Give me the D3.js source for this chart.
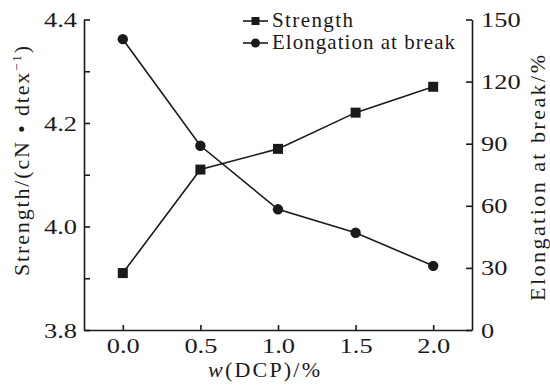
<!DOCTYPE html>
<html>
<head>
<meta charset="utf-8">
<script src="https://cdn.jsdelivr.net/npm/d3@7"></script>
<style>
  body { margin: 0; background: #fff; }
</style>
</head>
<body>
<svg id="chart" width="550" height="385"></svg>
<script>
// data
var dcp = [0.0, 0.5, 1.0, 1.5, 2.0];
var strength = [3.91, 4.11, 4.15, 4.22, 4.27];
var elongation = [140.5, 89, 58.3, 47, 31];
var xTicks = [0.0, 0.5, 1.0, 1.5, 2.0];
var yLeftTicks = [3.8, 3.9, 4.0, 4.1, 4.2, 4.3, 4.4];
var yRightTicks = [0, 30, 60, 90, 120, 150];

var ink = "#1a1a1a";
var serif = "'Liberation Serif', 'Times New Roman', serif";
var stretch = 1.2; // the source type is set wide
var svg = d3.select("#chart");

var x = d3.scaleLinear().domain([-0.25, 2.25]).range([84, 472]);
var yL = d3.scaleLinear().domain([3.8, 4.4]).range([330, 19.5]);
var yR = d3.scaleLinear().domain([0, 150]).range([330, 19.5]);

function styleAxis(g) {
    g.attr("font-family", null).attr("font-size", null);
    g.selectAll("path, line").attr("stroke", ink).attr("stroke-width", 1.6);
    g.selectAll("text")
        .style("font-family", serif).style("font-size", "22px").attr("fill", ink)
        .attr("x", function() { return (+d3.select(this).attr("x") || 0) / stretch; })
        .attr("transform", "scale(" + stretch + ",1)");
}

// bottom axis, ticks pointing up
svg.append("g")
    .attr("transform", "translate(0,330)")
    .call(d3.axisBottom(x).tickValues(xTicks).tickSizeInner(-5).tickSizeOuter(0)
        .tickPadding(7).tickFormat(d3.format(".1f")))
    .call(styleAxis);

// left axis, minor ticks every 0.1, labels every 0.2
svg.append("g")
    .attr("transform", "translate(84,0)")
    .call(d3.axisLeft(yL).tickValues(yLeftTicks).tickSizeInner(-6).tickSizeOuter(0)
        .tickPadding(7)
        .tickFormat(function(d) { return Math.round(d * 10) % 2 === 0 ? d3.format(".1f")(d) : ""; }))
    .call(styleAxis);

// right axis
svg.append("g")
    .attr("transform", "translate(472,0)")
    .call(d3.axisRight(yR).tickValues(yRightTicks).tickSizeInner(-6).tickSizeOuter(0)
        .tickPadding(9))
    .call(styleAxis);

// series
var pts = dcp.map(function(d, i) { return { x: d, s: strength[i], e: elongation[i] }; });

var lineS = d3.line().x(function(d) { return x(d.x); }).y(function(d) { return yL(d.s); });
var lineE = d3.line().x(function(d) { return x(d.x); }).y(function(d) { return yR(d.e); });

svg.append("path").datum(pts).attr("d", lineS)
    .attr("fill", "none").attr("stroke", ink).attr("stroke-width", 1.6);
svg.append("path").datum(pts).attr("d", lineE)
    .attr("fill", "none").attr("stroke", ink).attr("stroke-width", 1.6);

var sq = 10;
svg.selectAll(".sq").data(pts).enter().append("rect")
    .attr("x", function(d) { return x(d.x) - sq / 2; })
    .attr("y", function(d) { return yL(d.s) - sq / 2; })
    .attr("width", sq).attr("height", sq)
    .attr("fill", ink);

svg.selectAll(".dot").data(pts).enter().append("circle")
    .attr("cx", function(d) { return x(d.x); })
    .attr("cy", function(d) { return yR(d.e); })
    .attr("r", 5.2)
    .attr("fill", ink);

// legend
var leg = svg.append("g");
leg.append("line").attr("x1", 243).attr("x2", 268).attr("y1", 21).attr("y2", 21)
    .attr("stroke", ink).attr("stroke-width", 1.6);
leg.append("rect").attr("x", 251.5).attr("y", 17).attr("width", 8).attr("height", 8).attr("fill", ink);
leg.append("text").attr("x", 272).attr("y", 27)
    .style("font-family", serif).style("font-size", "21px").attr("fill", ink)
    .attr("textLength", 81).attr("lengthAdjust", "spacing").text("Strength");

leg.append("line").attr("x1", 243).attr("x2", 268).attr("y1", 43).attr("y2", 43)
    .attr("stroke", ink).attr("stroke-width", 1.6);
leg.append("circle").attr("cx", 255.5).attr("cy", 43).attr("r", 4.5).attr("fill", ink);
leg.append("text").attr("x", 272).attr("y", 49)
    .style("font-family", serif).style("font-size", "21px").attr("fill", ink)
    .attr("textLength", 183).attr("lengthAdjust", "spacing").text("Elongation at break");

// axis titles
var xt = svg.append("text").attr("x", 264).attr("y", 377).attr("text-anchor", "middle")
    .style("font-family", serif).style("font-size", "22px").attr("fill", ink)
    .attr("textLength", 112).attr("lengthAdjust", "spacing");
xt.append("tspan").style("font-style", "italic").text("w");
xt.append("tspan").text("(DCP)/%");

var yt = svg.append("text").attr("transform", "translate(29,161) rotate(-90)")
    .attr("text-anchor", "middle")
    .style("font-family", serif).style("font-size", "22px").attr("fill", ink)
    .attr("textLength", 230).attr("lengthAdjust", "spacing");
yt.append("tspan").text("Strength/(cN \u2022 dtex");
yt.append("tspan").attr("dy", -8).style("font-size", "13px").text("\u22121");
yt.append("tspan").attr("dy", 8).text(")");

svg.append("text").attr("transform", "translate(545,178) rotate(-90)")
    .attr("text-anchor", "middle")
    .style("font-family", serif).style("font-size", "22px").attr("fill", ink)
    .attr("textLength", 246).attr("lengthAdjust", "spacing")
    .text("Elongation at break/%");
</script>
</body>
</html>
